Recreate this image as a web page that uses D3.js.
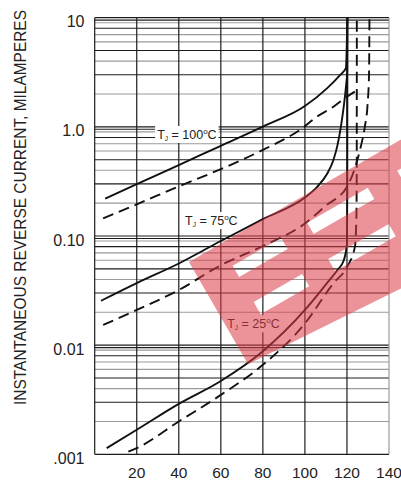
<!DOCTYPE html>
<html><head><meta charset="utf-8">
<script src="https://cdn.jsdelivr.net/npm/d3@7"></script>
<style>body{margin:0;background:#fff}svg{display:block}</style>
</head><body>
<svg id="c" width="401" height="483"></svg>
<script>
// ---- data ----
const xTicks = [20, 40, 60, 80, 100, 120, 140];
const yDecades = [0.001, 0.01, 0.1, 1, 10];
const yTickLabels = [".001", "0.01", "0.10", "1.0", "10"];
const minorMults = [2, 3, 4, 5, 6, 7, 8, 9, 9.5];
const darkMults = [3, 5, 8, 9.5];

// solid family
const solid100 = [[5,0.22],[20,0.298],[40,0.447],[60,0.67],[80,1.005],[100,1.55],[110.5,2.25],[116.8,3.0],[119.5,3.45],[120.2,10]];
const solid75  = [[3,0.0255],[20,0.037],[40,0.056],[60,0.09],[80,0.143],[100,0.225],[105.7,0.28],[110.5,0.37],[113.6,0.5],[115.5,0.68],[117.1,1.0],[118.4,1.5],[119.5,2.3],[120.1,3.2],[120.2,10]];
const solid25  = [[5.7,0.00114],[20,0.00168],[40,0.0029],[60,0.0047],[80,0.0088],[100,0.021],[110.5,0.037],[115.2,0.048],[118.5,0.06],[120,0.085],[120.15,0.25],[120.2,10]];
// dashed family
const dash100 = [[4,0.145],[20,0.195],[40,0.285],[60,0.41],[80,0.615],[98,0.95],[105.7,1.24],[113.6,1.53],[120,1.89],[124.5,2.15]];
const dash75  = [[4,0.0153],[20,0.021],[40,0.032],[60,0.054],[80,0.081],[100,0.13],[110,0.19],[120,0.283],[124,0.43],[126.5,0.65],[128.5,1.0],[129.8,1.6],[130.5,3],[130.7,10]];
const dash25  = [[16,0.00106],[20,0.00114],[40,0.002],[60,0.0035],[80,0.0066],[100,0.0158],[113.6,0.037],[120,0.052],[123.8,0.08],[124.5,0.15],[124.65,0.4],[124.7,10]];

const curveLabels = [
  {main: " = 100", at: [29.7, 0.774]},
  {main: " = 75",  at: [43, 0.126]},
  {main: " = 25",  at: [63, 0.01426]}
];

// ---- layout ----
const svg = d3.select("#c");
const L = 94.7, R = 389, T = 17.7, B = 454.3;
const x = d3.scaleLinear().domain([0, 140]).range([L, R]);
const y = d3.scaleLog().domain([0.001, 10]).range([B, T]);
const black = "#1c1c1c", gray = "#9a9a9a";

svg.append("rect").attr("width", 401).attr("height", 483).attr("fill", "#fff");

const grid = svg.append("g");
const minor = [];
yDecades.slice(0, 4).forEach(d => minorMults.forEach(m => minor.push({v: d * m, dark: darkMults.includes(m)})));
grid.selectAll("line.hm").data(minor).join("line")
  .attr("x1", L).attr("x2", R)
  .attr("y1", d => y(d.v)).attr("y2", d => y(d.v))
  .attr("stroke", d => d.dark ? black : gray).attr("stroke-width", 1.1);
grid.selectAll("line.hd").data(yDecades).join("line")
  .attr("x1", L).attr("x2", R)
  .attr("y1", d => y(d)).attr("y2", d => y(d))
  .attr("stroke", black).attr("stroke-width", 1.2);
grid.selectAll("line.v").data([0].concat(xTicks)).join("line")
  .attr("x1", d => x(d)).attr("x2", d => x(d))
  .attr("y1", T).attr("y2", B)
  .attr("stroke", d => d === 140 ? gray : black).attr("stroke-width", 1.2);

// label boxes + labels
const lblG = svg.append("g").attr("font-family", "'Liberation Sans', Arial, sans-serif").attr("fill", "#222");
curveLabels.forEach(c => {
  const t = lblG.append("text").attr("x", x(c.at[0])).attr("y", y(c.at[1])).attr("font-size", 12.5);
  t.append("tspan").text("T");
  t.append("tspan").attr("font-size", 6.5).attr("dy", 2).text("J");
  t.append("tspan").attr("dy", -2).text(c.main);
  t.append("tspan").attr("font-size", 8).attr("dy", -5).text("o");
  t.append("tspan").attr("dy", 5).text("C");
  const bb = t.node().getBBox();
  lblG.insert("rect", "text").attr("x", bb.x - 2).attr("y", bb.y - 1).attr("width", bb.width + 4).attr("height", bb.height + 2).attr("fill", "#fff");
});

// curves
const line = d3.line().x(d => x(d[0])).y(d => y(d[1])).curve(d3.curveMonotoneX);
const curves = svg.append("g").attr("fill", "none").attr("stroke", "#111").attr("stroke-width", 1.9);
[solid100, solid75, solid25].forEach(s => curves.append("path").attr("d", line(s)));
[dash100, dash75, dash25].forEach(s => curves.append("path").attr("d", line(s)).attr("stroke-dasharray", "11,6"));
lblG.raise();

// watermark (decorative logo)
const wm = svg.append("g").attr("transform", "translate(189,262) rotate(-30)");
let p = "M0,0L310,0L310,138L0,118Z";
[[36, 92], [122, 192], [226, 296]].forEach(([u0, u1]) => {
  p += `M${u0},25H${u1}V38H${u0}Z`;
  p += `M${u0},67H${u1}V81H${u0}Z`;
});
wm.append("path").attr("d", p).attr("fill", "#dd3a45").attr("fill-opacity", 0.55).attr("fill-rule", "evenodd");

// axes text
const ax = svg.append("g").attr("font-family", "'Liberation Sans', Arial, sans-serif").attr("fill", "#222");
ax.selectAll("text.y").data(yDecades).join("text")
  .attr("x", 84.5).attr("y", d => y(d) + 4).attr("dominant-baseline", "central")
  .attr("text-anchor", "end").attr("font-size", 16).text((d, i) => yTickLabels[i]);
ax.selectAll("text.x").data(xTicks).join("text")
  .attr("x", d => x(d)).attr("y", 477.5).attr("text-anchor", "middle")
  .attr("font-size", 15.5).text(d => d);
const title = ax.append("text").attr("text-anchor", "middle").attr("font-size", 17)
  .text("INSTANTANEOUS REVERSE CURRENT, MILAMPERES");
const natural = title.node().getComputedTextLength();
title.attr("transform", `translate(25.5,207.5) rotate(-90) scale(${395 / natural},1)`);
</script>
</body></html>
